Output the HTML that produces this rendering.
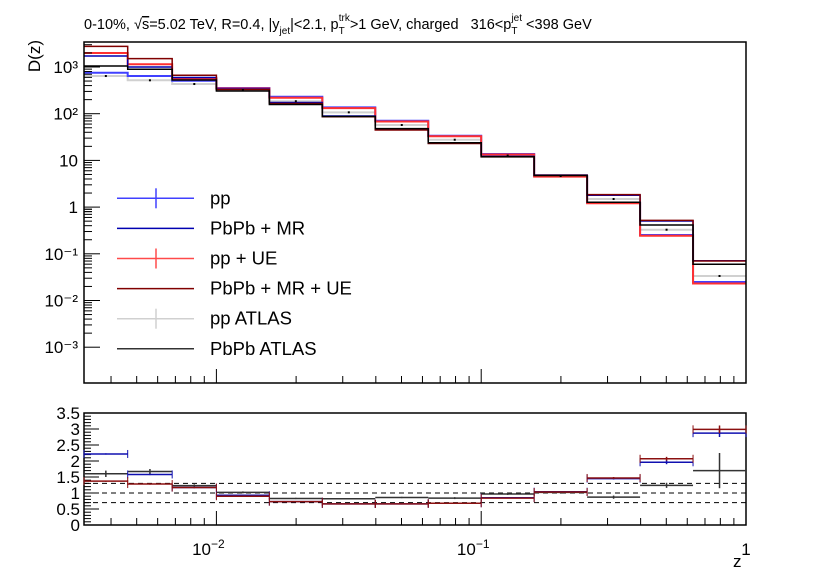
<!DOCTYPE html>
<html><head><meta charset="utf-8"><style>
body{margin:0;background:#fff;}
svg{display:block;font-family:"Liberation Sans",sans-serif;}
</style></head><body>
<svg id="c" width="830" height="579" xmlns="http://www.w3.org/2000/svg">
<rect width="830" height="579" fill="#fff"/>
<text x="84" y="29" font-size="14.5" fill="#000">0-10%, √<tspan text-decoration="overline">s</tspan>=5.02 TeV, R=0.4, |y<tspan font-size="10" dy="5">jet</tspan><tspan dy="-5">|&lt;2.1, p</tspan><tspan font-size="10" dy="5">T</tspan><tspan font-size="10" dx="-6" dy="-13">trk</tspan><tspan dy="8">&gt;1 GeV, charged&#160;&#160;&#160;316&lt;p</tspan><tspan font-size="10" dy="5">T</tspan><tspan font-size="10" dx="-6" dy="-13">jet</tspan><tspan dy="8"> &lt;398 GeV</tspan></text>
<text transform="translate(40,40) rotate(-90)" text-anchor="end" font-size="17">D(z)</text>
<text x="733" y="567" font-size="17">z</text>
<g id="topPanel"></g><g id="botPanel"></g><g id="legPanel"></g>
</svg>
<script>
// bins (log10 edges of z)
const binEdgesLog = [-2.5,-2.335,-2.167,-2,-1.8,-1.6,-1.4,-1.2,-1,-0.8,-0.6,-0.4,-0.2,0];
const ppVals   = [755,641,509,355,231,137,70.8,33.8,13.7,4.63,1.24,0.253,0.0249];
const mrVals   = [1720,1000,596,338,174,89.3,45.9,23.6,12.2,4.86,1.79,0.504,0.0708];
const ppUEVals = [1995,1142,568,347,220,132,68.1,32.8,13.4,4.48,1.21,0.244,0.0231];
const mrUEVals = [2770,1507,664,330,165,86.3,44.8,23.0,11.9,4.80,1.85,0.521,0.0701];
const atlasPPVals = [641,519,432,321,185,107,57.3,27.7,12.7,4.63,1.49,0.328,0.0335];
const atlasPbVals = [1050,893,527,306,157,87.1,47.8,23.9,12.0,4.75,1.27,0.414,0.0596];
const ratioMR   = [2.22,1.58,1.17,0.93,0.73,0.66,0.66,0.68,0.85,1.04,1.45,1.96,2.87];
const ratioMRUE = [1.37,1.28,1.17,0.90,0.73,0.66,0.66,0.68,0.84,1.03,1.47,2.07,2.99];
const ratioMRErr = [0.02,0.02,0.02,0.01,0.01,0.01,0.01,0.01,0.01,0.01,0.03,0.06,0.12];
const ratioAtlas = [1.6,1.67,1.23,1.02,0.83,0.82,0.86,0.84,0.97,1.02,0.87,1.24,1.7];
const ratioAtlasErr = [0.1,0.08,0.04,0.03,0.02,0.02,0.02,0.03,0.03,0.04,0.05,0.08,0.55];
const refLines = [1.3,1.0,0.7];
const yTopTicks = [3,2,1,0,-1,-2,-3];
const yTopLabels = ["10³","10²","10","1","10⁻¹","10⁻²","10⁻³"];
const yBotTicks = [0,0.5,1,1.5,2,2.5,3,3.5];
const yBotLabels = ["0","0.5","1","1.5","2","2.5","3","3.5"];
const legendLabels = ["pp","PbPb + MR","pp + UE","PbPb + MR + UE","pp ATLAS","PbPb ATLAS"];

const NS="http://www.w3.org/2000/svg";
const X0=84,X1=746,TY0=42,TY1=383,BY0=413,BY1=525;
const xs=l=>X0+(l+2.5)/2.5*(X1-X0);
const yt=v=>67-(Math.log10(v)-3)*46.7;
const yb=r=>BY1-r/3.5*(BY1-BY0);
function mk(p,tag,a,name){const e=document.createElementNS(NS,tag);for(const k in a)e.setAttribute(k,a[k]);


p.appendChild(e);return e;}
const topG=document.getElementById('topPanel'),botG=document.getElementById('botPanel'),legG=document.getElementById('legPanel');
function hist(vals,col,w,name){let d='';for(let i=0;i<vals.length;i++){const xa=xs(binEdgesLog[i]),xb=xs(binEdgesLog[i+1]),y=yt(vals[i]);d+=(i?'L':'M')+xa+','+y+'L'+xb+','+y;}
mk(topG,'path',{d:d,fill:'none',stroke:col,'stroke-width':w},name);}
hist(atlasPPVals,'#d0d0d0',2,'pp-atlas-series');
hist(ppVals,'#4040ff',2,'pp-series');
hist(ppUEVals,'#ff3030',2,'pp-ue-series');
hist(mrVals,'#0000b0',1.5,'pbpb-mr-series');
hist(mrUEVals,'#800000',1.5,'pbpb-mr-ue-series');
hist(atlasPbVals,'#000',1.5,'pbpb-atlas-series');
for(let i=0;i<atlasPPVals.length;i++){const xc=xs((binEdgesLog[i]+binEdgesLog[i+1])/2);
mk(topG,'rect',{x:xc-1,y:yt(atlasPPVals[i])-1,width:2,height:2,fill:'#000'},'atlas-point');}
mk(topG,'rect',{x:X0,y:TY0,width:X1-X0,height:TY1-TY0,fill:'none',stroke:'#000','stroke-width':1.5},'top-frame');
mk(botG,'rect',{x:X0,y:BY0,width:X1-X0,height:BY1-BY0,fill:'none',stroke:'#000','stroke-width':1.5},'bottom-frame');
yTopTicks.forEach((t,i)=>{const y=67-(t-3)*46.7;mk(topG,'line',{x1:X0,x2:X0+16,y1:y,y2:y,stroke:'#000'},'y-tick');
const tx=mk(topG,'text',{x:78,y:y+6,'text-anchor':'end','font-size':17},'y-tick-label');tx.textContent=yTopLabels[i];
for(let m=2;m<10;m++){const ym=67-(t-3+Math.log10(m))*46.7;if(ym>TY0&&ym<TY1)mk(topG,'line',{x1:X0,x2:X0+8,y1:ym,y2:ym,stroke:'#000'},'y-minor-tick');}});
[8,9].forEach(m=>{const ym=67-(-4+Math.log10(m))*46.7;mk(topG,'line',{x1:X0,x2:X0+8,y1:ym,y2:ym,stroke:'#000'},'y-minor-tick');});
[-2,-1,0].forEach(d=>{[TY1,BY1].forEach(yy=>mk(botG,'line',{x1:xs(d),x2:xs(d),y1:yy,y2:yy-14,stroke:'#000'},'x-tick'));});
for(let d=-3;d<0;d++)for(let m=2;m<10;m++){const l=d+Math.log10(m);if(l>-2.5&&l<0)[TY1,BY1].forEach(yy=>mk(botG,'line',{x1:xs(l),x2:xs(l),y1:yy,y2:yy-7,stroke:'#000'},'x-minor-tick'));}
[["10","−2",-2],["10","−1",-1],["1","",0]].forEach(a=>{const t=mk(botG,'text',{x:xs(a[2])+(a[1]?-8:0),y:555,'text-anchor':'middle','font-size':17},'x-tick-label');t.textContent=a[0];
if(a[1]){const s=document.createElementNS(NS,'tspan');s.setAttribute('font-size','12');s.setAttribute('dy','-7');s.textContent=a[1];t.appendChild(s);}});
yBotTicks.forEach((t,i)=>{const y=yb(t);mk(botG,'line',{x1:X0,x2:X0+15,y1:y,y2:y,stroke:'#000'},'ratio-y-tick');
const tx=mk(botG,'text',{x:80,y:y+6,'text-anchor':'end','font-size':17},'ratio-y-tick-label');tx.textContent=yBotLabels[i];
if(t<3.5)for(let m=1;m<5;m++){const ym=yb(t+m*0.1);mk(botG,'line',{x1:X0,x2:X0+7,y1:ym,y2:ym,stroke:'#000'},'ratio-minor-tick');}});
refLines.forEach(r=>mk(botG,'line',{x1:X0,x2:X1,y1:yb(r),y2:yb(r),stroke:'#000','stroke-dasharray':'5,4'},'reference-line'));
function ratio(vals,errs,col,caps,name){for(let i=0;i<vals.length;i++){const xa=xs(binEdgesLog[i]),xb=xs(binEdgesLog[i+1]),xc=xs((binEdgesLog[i]+binEdgesLog[i+1])/2),y=yb(vals[i]);
mk(botG,'line',{x1:xa,x2:xb,y1:y,y2:y,stroke:col,'stroke-width':1.5},name);
mk(botG,'line',{x1:xc,x2:xc,y1:yb(vals[i]-errs[i]),y2:yb(vals[i]+errs[i]),stroke:col,'stroke-width':1.5},name+'-error');
if(caps){[xa,xb].forEach(xx=>mk(botG,'line',{x1:xx,x2:xx,y1:y-4,y2:y+4,stroke:col},name+'-cap'));}}}
ratio(ratioAtlas,ratioAtlasErr,'#333',false,'ratio-atlas');
ratio(ratioMR,ratioMRErr,'#1010b0',true,'ratio-pbpb-mr');
ratio(ratioMRUE,ratioMRErr,'#8b1010',true,'ratio-pbpb-mr-ue');
const legCols=['#4040ff','#0000b0','#ff4a4a','#800000','#d0d0d0','#333'];
const legErr=[true,false,true,false,true,false];
legendLabels.forEach((l,i)=>{const y=198.3+i*30.1;mk(legG,'line',{x1:117,x2:194,y1:y,y2:y,stroke:legCols[i],'stroke-width':1.5},'legend-line');
if(legErr[i])mk(legG,'line',{x1:156,x2:156,y1:y-10,y2:y+10,stroke:legCols[i],'stroke-width':1.5},'legend-errorbar');
const t=mk(legG,'text',{x:210,y:y+6,'font-size':18.5},'legend-entry');t.textContent=l;});
</script>
</body></html>
